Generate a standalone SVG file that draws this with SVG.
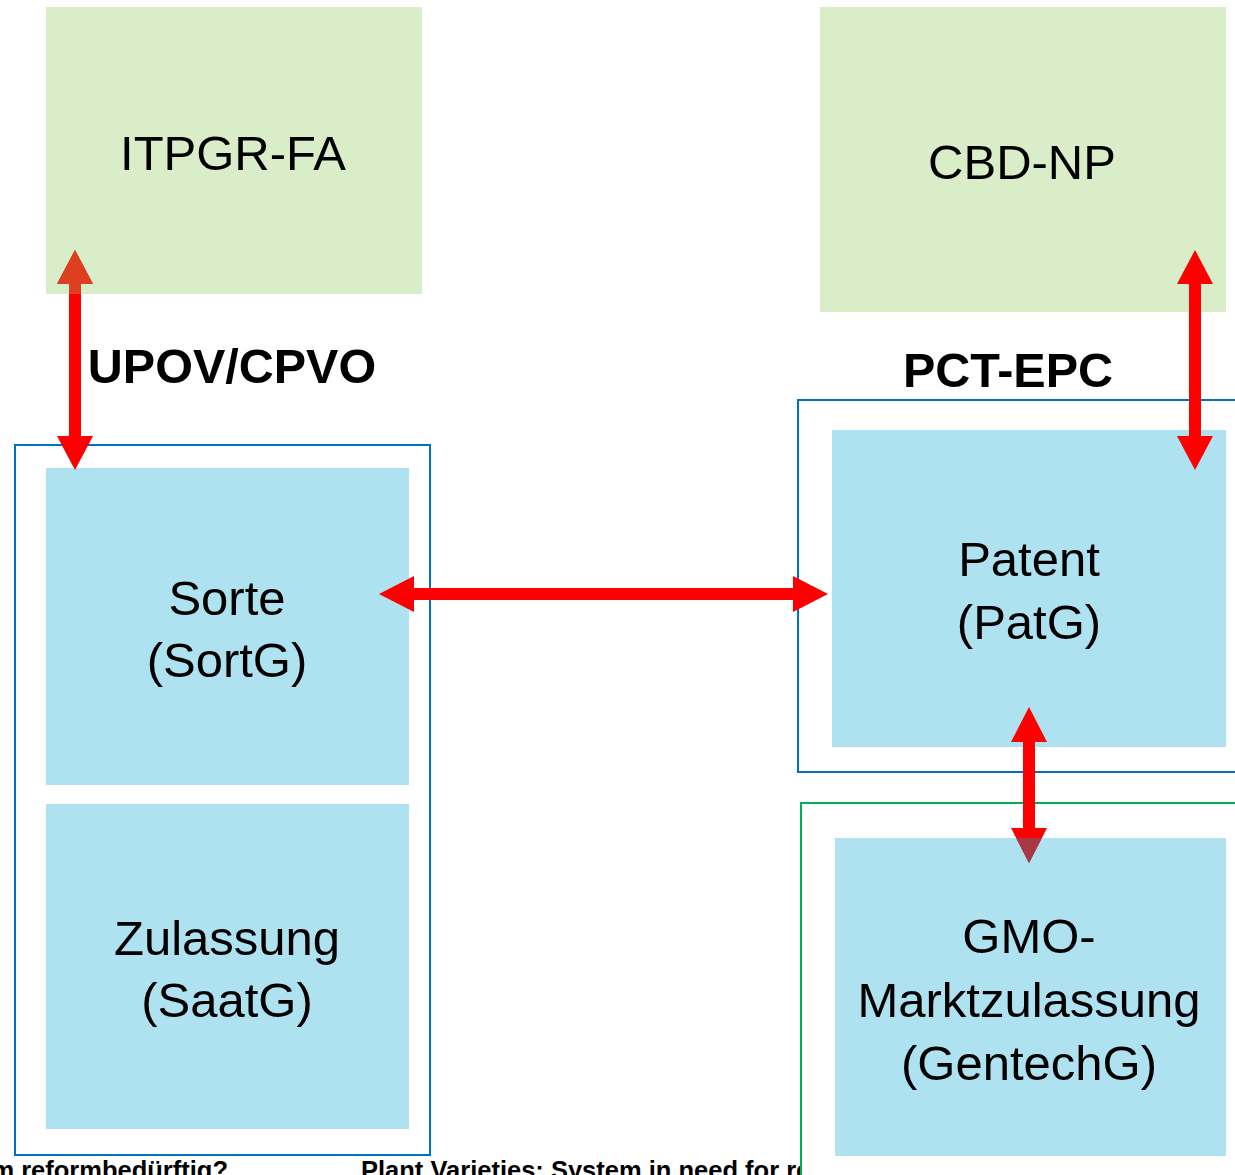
<svg xmlns="http://www.w3.org/2000/svg" width="1235" height="1175" viewBox="0 0 1235 1175">
<defs>
<style>
.green{fill:#d9eec8}
.blue{fill:#aee2f1}
.t{font-family:"Liberation Sans",Arial,sans-serif;font-size:49px;fill:#000;text-anchor:middle}
.b{font-family:"Liberation Sans",Arial,sans-serif;font-size:48.5px;font-weight:bold;fill:#000;text-anchor:middle}
.f{font-family:"Liberation Sans",Arial,sans-serif;font-size:25.5px;font-weight:bold;fill:#000}
.arr{fill:#ff0000}
</style>
<clipPath id="cItp"><rect x="46" y="7" width="376" height="287"/></clipPath>
<clipPath id="cGmo"><rect x="835" y="838" width="391" height="318"/></clipPath>
<clipPath id="cFoot"><rect x="0" y="1150" width="802" height="25"/></clipPath>
</defs>
<rect width="1235" height="1175" fill="#fff"/>
<g id="footer" clip-path="url(#cFoot)">
<text class="f" x="228" y="1179" text-anchor="end">m reformbedürftig?</text>
<text class="f" x="361" y="1179">Plant Varieties: System in need for reform?</text>
</g>
<g id="itpgr"><rect class="green" x="46" y="7" width="376" height="287"/><text class="t" x="233" y="170">ITPGR-FA</text></g>
<g id="cbd"><rect class="green" x="820" y="7" width="406" height="305"/><text class="t" x="1022" y="179">CBD-NP</text></g>
<g id="upov"><text class="b" x="232" y="383">UPOV/CPVO</text></g>
<g id="pct"><text class="b" x="1008" y="387">PCT-EPC</text></g>
<g id="upovFrame"><rect x="15" y="445" width="415" height="710" fill="none" stroke="#0070c0" stroke-width="2"/></g>
<g id="sorte"><rect class="blue" x="46" y="468" width="363" height="317"/><text class="t" x="227" y="615">Sorte</text><text class="t" x="227" y="677">(SortG)</text></g>
<g id="zulassung"><rect class="blue" x="46" y="804" width="363" height="325"/><text class="t" x="227" y="955">Zulassung</text><text class="t" x="227" y="1017">(SaatG)</text></g>
<g id="pctFrame"><rect x="798" y="400" width="450" height="372" fill="none" stroke="#0070c0" stroke-width="2"/></g>
<g id="patent"><rect class="blue" x="832" y="430" width="394" height="317"/><text class="t" x="1029" y="576">Patent</text><text class="t" x="1029" y="639">(PatG)</text></g>
<g id="gmoFrame"><rect x="801" y="803" width="450" height="400" fill="none" stroke="#00b050" stroke-width="2"/></g>
<g id="gmo"><rect class="blue" x="835" y="838" width="391" height="318"/><text class="t" x="1029" y="953">GMO-</text><text class="t" x="1029" y="1017">Marktzulassung</text><text class="t" x="1029" y="1080">(GentechG)</text></g>
<g id="connectors">
<polygon id="a1" class="arr" points="75,250 93,284 81,284 81,436 93,436 75,470 57,436 69,436 69,284 57,284"/>
<polygon fill="#dc4020" clip-path="url(#cItp)" points="75,250 93,284 81,284 81,436 93,436 75,470 57,436 69,436 69,284 57,284"/>
<polygon class="arr" points="379,594 414,576 414,588 793,588 793,576 828,594 793,612 793,600 414,600 414,612"/>
<polygon class="arr" points="1195,250 1213,284 1201,284 1201,436 1213,436 1195,470 1177,436 1189,436 1189,284 1177,284"/>
<polygon class="arr" points="1029,707 1047,742 1035,742 1035,828 1047,828 1029,863 1011,828 1023,828 1023,742 1011,742"/>
<polygon fill="#a83848" clip-path="url(#cGmo)" points="1029,707 1047,742 1035,742 1035,828 1047,828 1029,863 1011,828 1023,828 1023,742 1011,742"/>
</g>
</svg>
